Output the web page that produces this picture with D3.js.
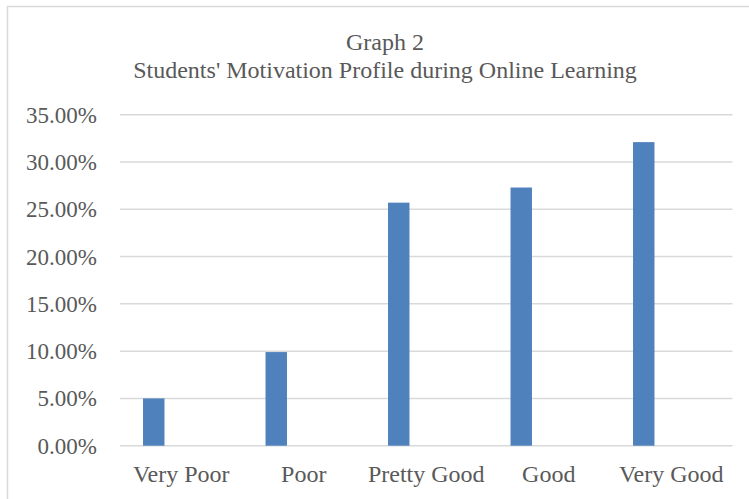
<!DOCTYPE html>
<html>
<head>
	<meta charset="UTF-8">
	<script src="https://cdn.jsdelivr.net/npm/d3@7"></script>
	<style>
		body { margin: 0; background: #fff; }
		svg text { font-family: "Liberation Serif", "Times New Roman", serif; fill: #595959; }
	</style>
</head>
<body>
	<script>
		const categories = ['Very Poor', 'Poor', 'Pretty Good', 'Good', 'Very Good'];
		const values = [0.05, 0.099, 0.257, 0.273, 0.321];
		const tickValues = [0, 0.05, 0.10, 0.15, 0.20, 0.25, 0.30, 0.35];
		const titleLines = ['Graph 2', "Students' Motivation Profile during Online Learning"];

		const width = 749, height = 499;
		const serif = '"Liberation Serif", "Times New Roman", serif';

		const svg = d3.select('body').append('svg')
			.attr('width', width)
			.attr('height', height);

		// chart frame (cut off on the right and bottom, as in the picture)
		svg.append('rect')
			.attr('x', 7.5).attr('y', 6.5)
			.attr('width', 800).attr('height', 600)
			.attr('fill', 'none')
			.attr('stroke', '#d9d9d9')
			.attr('stroke-width', 1.5);

		const x = d3.scaleBand()
			.domain(categories)
			.range([120, 732.5]);

		const y = d3.scaleLinear()
			.domain([0, 0.35])
			.range([445.7, 114.7]);

		// gridlines
		svg.append('g')
			.selectAll('line')
			.data(tickValues)
			.enter().append('line')
				.attr('x1', 120).attr('x2', 732.5)
				.attr('y1', d => y(d)).attr('y2', d => y(d))
				.attr('stroke', '#d9d9d9')
				.attr('stroke-width', 1.5);

		// y tick labels
		const fmt = d3.format('.2%');
		svg.append('g')
			.selectAll('text')
			.data(tickValues)
			.enter().append('text')
				.attr('x', 97)
				.attr('y', d => y(d) + 8)
				.attr('text-anchor', 'end')
				.style('font-family', serif)
				.style('font-size', '23px')
				.text(d => fmt(d));

		// bars sit in the left part of each category slot
		const bw = x.bandwidth();
		svg.append('g')
			.selectAll('rect')
			.data(values)
			.enter().append('rect')
				.attr('x', (d, i) => x(categories[i]) + bw * 0.188)
				.attr('width', bw * 0.175)
				.attr('y', d => y(d))
				.attr('height', d => y(0) - y(d))
				.attr('fill', '#4f81bd');

		// category labels
		svg.append('g')
			.selectAll('text')
			.data(categories)
			.enter().append('text')
				.attr('x', d => x(d) + bw / 2)
				.attr('y', 482)
				.attr('text-anchor', 'middle')
				.style('font-family', serif)
				.style('font-size', '24px')
				.text(d => d);

		// title
		svg.append('g')
			.selectAll('text')
			.data(titleLines)
			.enter().append('text')
				.attr('x', 385)
				.attr('y', (d, i) => 50 + i * 28)
				.attr('text-anchor', 'middle')
				.style('font-family', serif)
				.style('font-size', '24px')
				.text(d => d);
	</script>
</body>
</html>
